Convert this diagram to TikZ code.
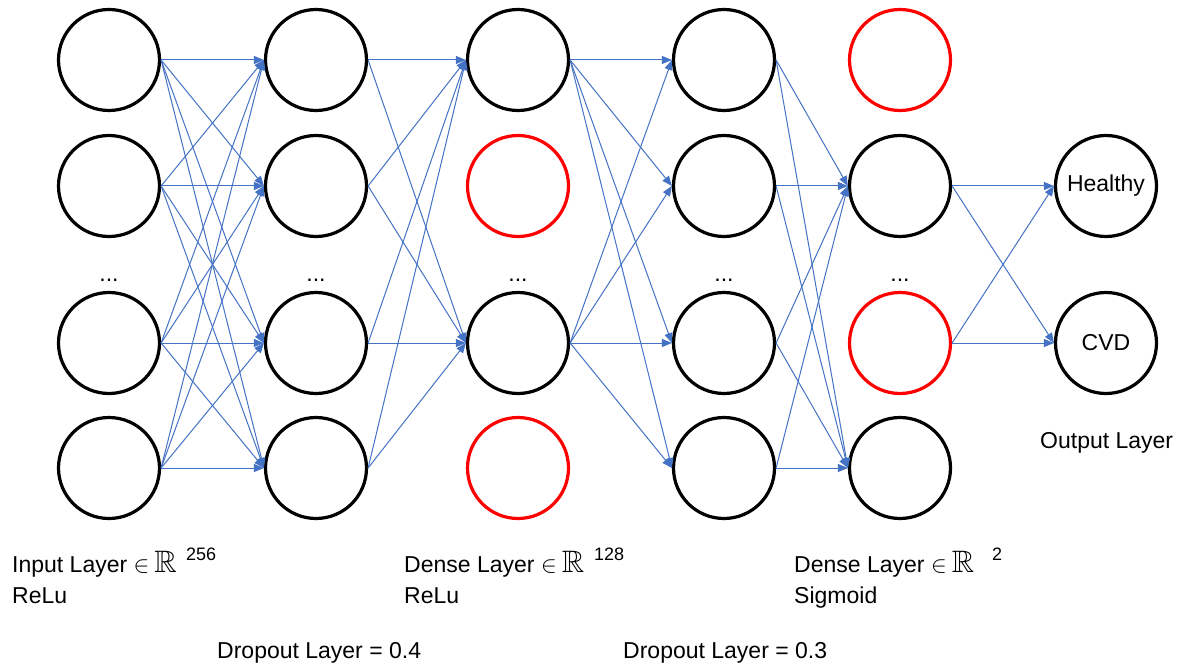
\documentclass[tikz,border=0pt]{standalone}
\usepackage{fontspec}
\usepackage{amssymb}
\usepackage{graphicx}
\setmainfont{Liberation Sans}
\usetikzlibrary{arrows.meta}
\definecolor{linkblue}{HTML}{4472C4}
\definecolor{dropred}{HTML}{FF0000}
\newcommand{\elemsym}{\scalebox{0.95}{$\in$}}
\newcommand{\realsym}{{\fontsize{31}{31}\selectfont$\mathbb{R}$}}
\begin{document}
\begin{tikzpicture}[x=1pt,y=-1pt,
  neuron/.style={circle,draw=black,line width=3.2pt,minimum size=101pt,inner sep=0pt,font=\fontsize{23}{27}\selectfont},
  dropped/.style={neuron,draw=dropred},
  link/.style={draw=linkblue,line width=1pt,-{Triangle[length=10pt,width=8pt]}},
  lbl/.style={anchor=base west,inner sep=0pt,font=\fontsize{23}{27}\selectfont},
  supl/.style={anchor=base west,inner sep=0pt,font=\fontsize{18}{20}\selectfont},
  dotsl/.style={anchor=base,inner sep=0pt,font=\fontsize{23}{27}\selectfont}
]
\useasboundingbox[fill=white] (0,0) rectangle (1185,668);

% input layer
\node[neuron] (a1) at (109,60) {};
\node[neuron] (a2) at (109,186) {};
\node[neuron] (a3) at (109,343) {};
\node[neuron] (a4) at (109,468) {};
% dense 256
\node[neuron] (b1) at (316,60) {};
\node[neuron] (b2) at (316,186) {};
\node[neuron] (b3) at (316,343) {};
\node[neuron] (b4) at (316,468) {};
% dropout 0.4
\node[neuron] (c1) at (518,60) {};
\node[dropped] (c2) at (518,186) {};
\node[neuron] (c3) at (518,343) {};
\node[dropped] (c4) at (518,468) {};
% dense 128
\node[neuron] (d1) at (724,60) {};
\node[neuron] (d2) at (724,186) {};
\node[neuron] (d3) at (724,343) {};
\node[neuron] (d4) at (724,468) {};
% dropout 0.3
\node[dropped] (e1) at (900,60) {};
\node[neuron] (e2) at (900,186) {};
\node[dropped] (e3) at (900,343) {};
\node[neuron] (e4) at (900,468) {};
% output
\node[neuron] (oH) at (1106,186) {Healthy};
\node[neuron] (oC) at (1106,343) {CVD};

% ellipses
\node[dotsl] (da) at (109,281) {...};
\node[dotsl] (db) at (316,281) {...};
\node[dotsl] (dc) at (518,281) {...};
\node[dotsl] (dd) at (724,281) {...};
\node[dotsl] (de) at (900,281) {...};

% connections
\foreach \i in {1,...,4}{\foreach \j in {1,...,4}{\draw[link] (a\i.east) -- (b\j.west);}}
\foreach \i in {1,...,4}{\foreach \j in {1,3}{\draw[link] (b\i.east) -- (c\j.west);}}
\foreach \i in {1,3}{\foreach \j in {1,...,4}{\draw[link] (c\i.east) -- (d\j.west);}}
\foreach \i in {1,...,4}{\foreach \j in {2,4}{\draw[link] (d\i.east) -- (e\j.west);}}
\foreach \i in {2,3}{\foreach \j in {oH,oC}{\draw[link] (e\i.east) -- (\j.west);}}

% labels
\node[lbl] (l1) at (12,572) {Input Layer \elemsym\hspace{5pt}\realsym};
\node[supl] (s1) at (186,560) {256};
\node[lbl] (r1) at (12,603) {ReLu};
\node[lbl] (l2) at (404,572) {Dense Layer \elemsym\hspace{5pt}\realsym};
\node[supl] (s2) at (594,560) {128};
\node[lbl] (r2) at (404,603) {ReLu};
\node[lbl] (l3) at (794,572) {Dense Layer \elemsym\hspace{5pt}\realsym};
\node[supl] (s3) at (992,560) {2};
\node[lbl] (r3) at (794,603) {Sigmoid};
\node[lbl] (p1) at (217,658) {Dropout Layer = 0.4};
\node[lbl] (p2) at (623,658) {Dropout Layer = 0.3};
\node[lbl] (ol) at (1040,448) {Output Layer};
\end{tikzpicture}
\end{document}
